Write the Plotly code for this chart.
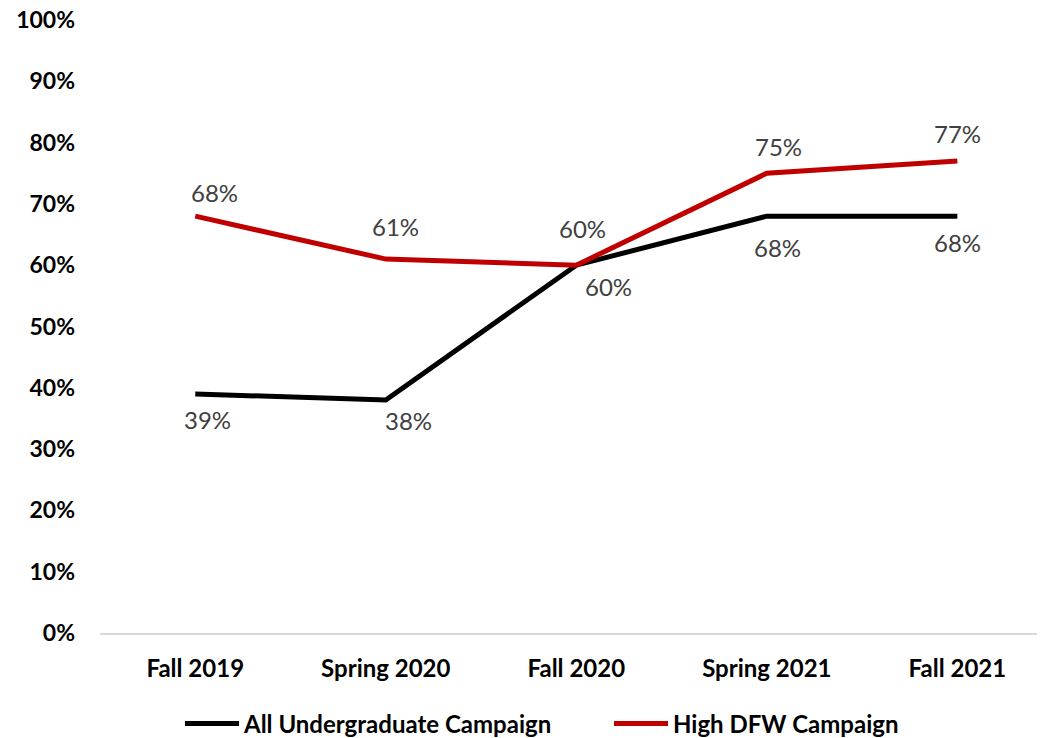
import plotly.graph_objects as go

categories = ["Fall 2019", "Spring 2020", "Fall 2020", "Spring 2021", "Fall 2021"]
all_undergrad = [39, 38, 60, 68, 68]
high_dfw = [68, 61, 60, 75, 77]
y_ticks = list(range(0, 101, 10))

# label placement offsets (pixels) mimicking the reference
black_dx = [12, 23, 32, 11, 0]
black_dy = [-26, -20, -21, -31, -26]
red_dx = [19, 10, 6, 12, 0]
red_dy = [24, 33, 37, 27, 27]

FONT = "Lato"
W, H = 1045, 738
fig = go.Figure()
fig.add_trace(go.Scatter(
    x=categories, y=all_undergrad, mode="lines", name="All Undergraduate Campaign",
    line=dict(color="#000000", width=5),
))
fig.add_trace(go.Scatter(
    x=categories, y=high_dfw, mode="lines", name="High DFW Campaign",
    line=dict(color="#C00000", width=5),
))

annotations = []
for series, dxs, dys in ((all_undergrad, black_dx, black_dy), (high_dfw, red_dx, red_dy)):
    for c, v, dx, dy in zip(categories, series, dxs, dys):
        annotations.append(dict(
            x=c, y=v, xref="x", yref="y", text=f"{v}%", showarrow=False,
            xshift=dx, yshift=dy, xanchor="center", yanchor="middle",
            font=dict(family=FONT, size=24, color="#404040"),
        ))

fig.update_layout(
    width=W, height=H,
    margin=dict(l=92, r=8, t=12, b=113, autoexpand=False),
    plot_bgcolor="white", paper_bgcolor="white",
    font=dict(family=FONT, size=24, color="#000000"),
    annotations=annotations,
    xaxis=dict(range=[-0.5, 4.46], showgrid=False, showline=True, linecolor="#d9d9d9",
               linewidth=2, ticks="", automargin=False,
               tickfont=dict(family=FONT, size=24, color="#000000", weight="bold"),
               ticklabelstandoff=13, ticklabeloverflow="allow"),
    yaxis=dict(range=[0, 100], tickvals=y_ticks, ticktext=[f"{v}%" for v in y_ticks],
               showgrid=False, zeroline=False, showline=False, ticks="", automargin=False,
               tickfont=dict(family=FONT, size=23, color="#000000", weight="bold"),
               ticklabelstandoff=24, ticklabeloverflow="allow"),
    legend=dict(orientation="h", xref="container", x=172 / W, xanchor="left",
                yref="container", y=(H - 716) / H, yanchor="middle",
                font=dict(family=FONT, size=24, color="#000000", weight="bold"),
                traceorder="normal", itemwidth=54,
                entrywidth=360, entrywidthmode="pixels"),
    showlegend=True,
)
fig.write_html("out.html")
